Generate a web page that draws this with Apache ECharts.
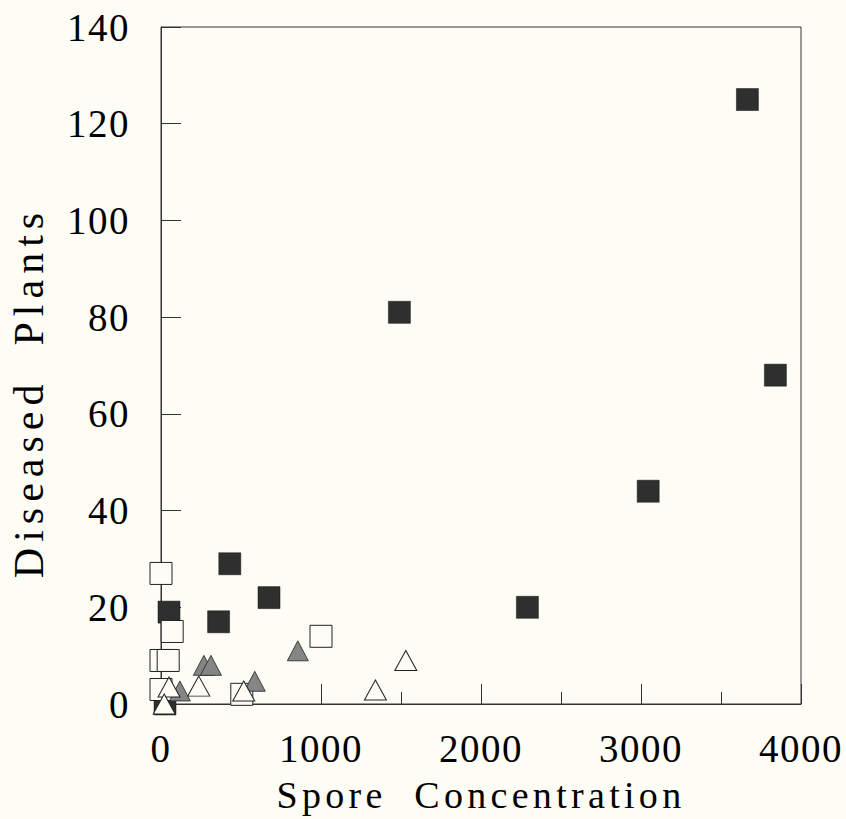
<!DOCTYPE html>
<html>
<head>
<meta charset="utf-8">
<script src="https://cdn.jsdelivr.net/npm/echarts@6/dist/echarts.min.js"></script>
<style>
  html, body { margin: 0; padding: 0; background: #fdfdf5; }
  #chart { width: 846px; height: 819px; }
  /* the printed figure is letter-spaced; svg text takes css spacing */
  #chart text[style*="39px"] { letter-spacing: 1.5px; }
  #chart text[style*="38px"] { letter-spacing: 4.3px; }
  #chart text[style*="42px"] { letter-spacing: 6px; }
</style>
</head>
<body>
<div id="chart"></div>
<script>
// spore concentration vs diseased plants, four groups
const filledSquares = [[1490, 81], [3665, 125], [3840, 68], [3045, 44], [2290, 20], [430, 29], [675, 22], [360, 17], [50, 19], [25, 0]];
const openSquares = [[0, 27], [70, 15], [0, 9], [45, 9], [0, 3], [505, 2], [1000, 14]];
const grayTriangles = [[268, 8], [312, 8], [118, 2.7], [586, 4.7], [855, 11]];
const openTriangles = [[50, 3.5], [236, 3.7], [20, 0], [517, 2.7], [1340, 2.9], [1530, 9]];

const xTicks = [0, 1000, 2000, 3000, 4000];
const yTicks = [0, 20, 40, 60, 80, 100, 120, 140];

const serif = "Liberation Serif";
const paper = "#fdfdf5";
const chart = echarts.init(document.getElementById("chart"), null, { renderer: "svg" });

const option = {
    backgroundColor: paper,
    animation: false,
    grid: {
        left: 159,
        right: 45,
        top: 27,
        bottom: 113,
        show: true,
        borderColor: "#333",
        borderWidth: 1,
    },
    xAxis: {
        type: "value",
        min: xTicks[0],
        max: xTicks[xTicks.length - 1],
        interval: 1000,
        name: "Spore  Concentration",
        nameLocation: "middle",
        nameGap: 72,
        nameTextStyle: { fontFamily: serif, fontSize: 38, color: "#000" },
        axisLine: { show: true, lineStyle: { color: "#333", width: 1 } },
        axisTick: { show: true, inside: true, length: 20, lineStyle: { color: "#333" } },
        minorTick: { show: true, splitNumber: 2, length: 12, lineStyle: { color: "#333" } },
        axisLabel: {
            fontFamily: serif, fontSize: 39, color: "#000", margin: 25,
            formatter: (v) => String(v),
        },
        splitLine: { show: false },
    },
    yAxis: {
        type: "value",
        min: yTicks[0],
        max: yTicks[yTicks.length - 1],
        interval: 20,
        name: "Diseased  Plants",
        nameLocation: "middle",
        nameGap: 111,
        // title sits a little below the middle of the axis
        nameTextStyle: { fontFamily: serif, fontSize: 42, color: "#000", padding: [0, 54, 0, 0] },
        axisLine: { show: true, lineStyle: { color: "#333", width: 1 } },
        axisTick: { show: true, inside: true, length: 20, lineStyle: { color: "#333" } },
        axisLabel: {
            fontFamily: serif, fontSize: 39, color: "#000", margin: 31,
            formatter: (v) => String(v),
        },
        splitLine: { show: false },
    },
    series: [
        {
            name: "filled squares",
            type: "scatter",
            symbol: "rect",
            symbolSize: 22,
            data: filledSquares,
            itemStyle: { color: "#2f2f2f", borderColor: "#111", borderWidth: 0.5, opacity: 1 },
        },
        {
            name: "open squares",
            type: "scatter",
            symbol: "rect",
            symbolSize: 22,
            data: openSquares,
            itemStyle: { color: paper, borderColor: "#222", borderWidth: 1, opacity: 1 },
        },
        {
            name: "gray triangles",
            type: "scatter",
            symbol: "triangle",
            symbolSize: [21, 20],
            data: grayTriangles,
            itemStyle: { color: "#858585", borderColor: "#222", borderWidth: 0.8, opacity: 1 },
        },
        {
            name: "open triangles",
            type: "scatter",
            symbol: "triangle",
            symbolSize: [22, 20],
            data: openTriangles,
            itemStyle: { color: paper, borderColor: "#222", borderWidth: 1, opacity: 1 },
        },
    ],
};

chart.setOption(option);
</script>
</body>
</html>
